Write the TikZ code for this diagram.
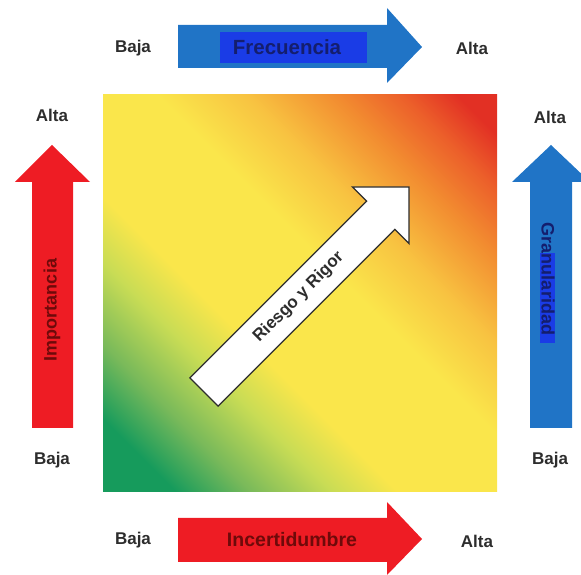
\documentclass[tikz,border=0pt]{standalone}
\usepackage{fontspec}
\setmainfont{Liberation Sans}
\definecolor{flechaazul}{RGB}{32,116,198}
\definecolor{fondoazul}{RGB}{26,60,230}
\definecolor{flecharoja}{RGB}{238,28,36}
\definecolor{textorojo}{RGB}{110,10,10}
\definecolor{textoazul}{RGB}{20,30,110}
\definecolor{textogris}{RGB}{45,45,45}
\definecolor{verdeR}{RGB}{22,155,92}
\definecolor{verdeclR}{RGB}{120,185,90}
\definecolor{verdeamR}{RGB}{200,220,85}
\definecolor{amarilloR}{RGB}{250,230,75}
\definecolor{amanarR}{RGB}{248,195,65}
\definecolor{naranjaR}{RGB}{242,140,48}
\definecolor{rojonR}{RGB}{236,95,42}
\definecolor{rojoR}{RGB}{226,48,36}
\pgfdeclarehorizontalshading{riesgo}{100bp}{color(0bp)=(verdeR); color(21bp)=(verdeR);
  color(27.6bp)=(verdeclR); color(35bp)=(verdeamR); color(41bp)=(amarilloR);
  color(55bp)=(amarilloR); color(63bp)=(amanarR); color(71bp)=(naranjaR);
  color(77bp)=(rojonR); color(82bp)=(rojoR); color(100bp)=(rojoR)}
\begin{document}
\begin{tikzpicture}[x=1pt,y=1pt,
    etiqueta/.style={font=\bfseries\fontsize{17}{19}\selectfont, text=textogris},
    nombre/.style={font=\bfseries\fontsize{18}{20}\selectfont}]
            \useasboundingbox (0,0) rectangle (581,575);
            % cuadro de riesgo
            \shade [shading=riesgo, shading angle=45] (103,83) rectangle (497,480);

            % flechas
            \fill [flechaazul] (178,507) -- (387,507) -- (387,492) -- (422,528) -- (387,567) -- (387,550) -- (178,550) -- cycle;
            \fill [flecharoja] (178,13) -- (387,13) -- (387,0) -- (422,36) -- (387,73) -- (387,57) -- (178,57) -- cycle;
            \fill [flecharoja] (32,147) -- (32,393) -- (15,393) -- (52,430) -- (90,393) -- (73,393) -- (73,147) -- cycle;
            \fill [flechaazul] (530,147) -- (530,393) -- (512,393) -- (551,430) -- (590,393) -- (572,393) -- (572,147) -- cycle;
            \fill [fondoazul] (220,512) rectangle (367,543);
            \fill [fondoazul] (540,232) rectangle (555,322);

            \node [nombre, text=textoazul, font=\bfseries\fontsize{20.5}{22}\selectfont] (frec) at (287,528) {Frecuencia};
            \node [nombre, text=textorojo, font=\bfseries\fontsize{19.5}{21}\selectfont] (incert) at (292,35) {Incertidumbre};
            \node [nombre, text=textorojo, rotate=90] (impor) at (52,265) {Importancia};
            \node [nombre, text=textoazul, rotate=-90] (granu) at (548,296) {Granularidad};

            \node [etiqueta] (bajaF) at (133,527) {Baja}; \node [etiqueta] (altaF) at (472,527) {Alta};
            \node [etiqueta] (bajaI) at (133,35) {Baja}; \node [etiqueta] (altaI) at (477,34) {Alta};
            \node [etiqueta] (altaM) at (52,460) {Alta}; \node [etiqueta] (bajaM) at (52,115) {Baja};
            \node [etiqueta] (altaG) at (550,458) {Alta}; \node [etiqueta] (bajaG) at (550,115) {Baja};

            % flecha diagonal
            \begin{scope}[shift={(204,183)}, rotate=45]
            \draw [fill=white, draw=textogris, line width=1.3pt] (0,-20) -- (250,-20) -- (250,-40) -- (290,0) -- (250,40) -- (250,20) -- (0,20) -- cycle;
            \node [etiqueta, rotate=45] (rigor) at (134,0) {Riesgo y Rigor};
            \end{scope}
\end{tikzpicture}
\end{document}
